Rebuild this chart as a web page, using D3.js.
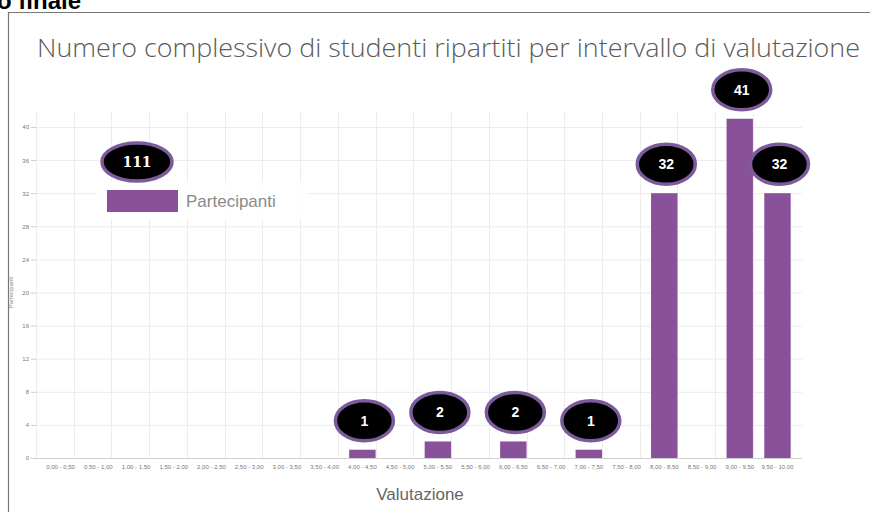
<!DOCTYPE html>
<meta charset="utf-8">
<html>
    <head>
        <style>
            html, body {
                margin: 0;
                padding: 0;
                background: #fff;
            }
            svg {
                display: block;
            }
            .grid line {
                stroke: #ececec;
            }
            .axis text {
                fill: #777;
                font-family: "Liberation Sans", Arial, sans-serif;
                font-size: 6px;
            }
            .axis path, .axis line {
                stroke: #cfcfcf;
            }
            .bar {
                fill: #88519a;
            }
            .bubble ellipse {
                fill: #000;
                stroke: #7c5a9c;
                stroke-width: 3.5;
            }
            .bubble text {
                fill: #fff;
                font-family: "Liberation Sans", Arial, sans-serif;
                font-weight: bold;
                font-size: 14px;
            }
        </style>
    </head>
    <body>
        <svg width="870" height="512"></svg>

        <script src="https://cdn.jsdelivr.net/npm/d3@7"></script>
        <script>
            var categories = ['0,00 - 0,50', '0,50 - 1,00', '1,00 - 1,50', '1,50 - 2,00', '2,00 - 2,50',
                '2,50 - 3,00', '3,00 - 3,50', '3,50 - 4,00', '4,00 - 4,50', '4,50 - 5,00',
                '5,00 - 5,50', '5,50 - 6,00', '6,00 - 6,50', '6,50 - 7,00', '7,00 - 7,50',
                '7,50 - 8,00', '8,00 - 8,50', '8,50 - 9,00', '9,00 - 9,50', '9,50 - 10,00'];
            var partecipanti = [0, 0, 0, 0, 0, 0, 0, 0, 1, 0, 2, 0, 2, 0, 1, 0, 32, 0, 41, 32];
            var yTicks = [0, 4, 8, 12, 16, 20, 24, 28, 32, 36, 40];
            var title = 'Numero complessivo di studenti ripartiti per intervallo di valutazione';
            var seriesName = 'Partecipanti';

            var svg = d3.select('svg'),
                width = +svg.attr('width'),
                height = +svg.attr('height');

            var margin = {top: 127, left: 36, right: 68, bottom: 54};
            var plotW = width - margin.left - margin.right,
                plotH = height - margin.top - margin.bottom;

            // cut-off heading from the page above
            svg.append('text')
                .attr('x', -3)
                .attr('y', 9)
                .style('font-family', '"Liberation Sans", Arial, sans-serif')
                .style('font-weight', 'bold')
                .style('font-size', '24px')
                .text('o finale');

            // frame
            svg.append('path')
                .attr('d', 'M8.5,' + height + 'V12.5H' + width)
                .attr('fill', 'none')
                .attr('stroke', '#777')
                .attr('stroke-width', 1.2);

            svg.append('text')
                .attr('x', 37)
                .attr('y', 57)
                .attr('textLength', 823)
                .attr('lengthAdjust', 'spacingAndGlyphs')
                .style('font-family', '"Open Sans", sans-serif')
                .style('font-weight', 300)
                .style('font-size', '25px')
                .style('fill', '#5a5a5a')
                .text(title);

            var x = d3.scaleBand()
                .domain(categories)
                .range([0, plotW])
                .padding(0.3);

            var y = d3.scaleLinear()
                .domain([0, 40])
                .range([plotH, 0]);

            var g = svg.append('g')
                .attr('transform', 'translate(' + margin.left + ',' + margin.top + ')');

            // grid
            var grid = g.append('g').attr('class', 'grid');
            grid.selectAll('.h')
                .data(yTicks.slice(1))
                .enter()
                    .append('line')
                    .attr('class', 'h')
                    .attr('x1', 0)
                    .attr('x2', plotW)
                    .attr('y1', function (d) { return y(d) + 0.5; })
                    .attr('y2', function (d) { return y(d) + 0.5; });
            grid.selectAll('.v')
                .data(categories)
                .enter()
                    .append('line')
                    .attr('class', 'v')
                    .attr('x1', function (d) { return Math.round(x(d) - x.step() * x.paddingOuter()) + 0.5; })
                    .attr('x2', function (d) { return Math.round(x(d) - x.step() * x.paddingOuter()) + 0.5; })
                    .attr('y1', -15)
                    .attr('y2', plotH);

            g.append('g')
                .attr('class', 'axis')
                .call(d3.axisLeft(y).tickValues(yTicks).tickSize(5).tickPadding(2))
                .call(function (s) { s.select('.domain').remove(); });

            g.append('g')
                .attr('class', 'axis')
                .attr('transform', 'translate(0,' + plotH + ')')
                .call(d3.axisBottom(x).tickSize(0).tickPadding(7))
                .call(function (s) { s.select('.domain').attr('d', 'M0,0.5H' + plotW); });

            g.append('text')
                .attr('transform', 'translate(-23,' + (plotH / 2) + ') rotate(-90)')
                .attr('text-anchor', 'middle')
                .style('font-family', '"Liberation Sans", Arial, sans-serif')
                .style('font-size', '6px')
                .style('fill', '#888')
                .text(seriesName);

            svg.append('text')
                .attr('x', 420)
                .attr('y', 500)
                .attr('text-anchor', 'middle')
                .style('font-family', '"Liberation Sans", Arial, sans-serif')
                .style('font-size', '17px')
                .style('fill', '#666')
                .text('Valutazione');

            // bars
            g.selectAll('.bar')
                .data(partecipanti)
                .enter()
                    .append('rect')
                    .attr('class', 'bar')
                    .attr('x', function (d, i) { return x(categories[i]); })
                    .attr('width', x.bandwidth())
                    .attr('y', function (d) { return y(d); })
                    .attr('height', function (d) { return plotH - y(d); });

            // legend
            var legend = svg.append('g')
                .attr('transform', 'translate(107,190)');
            legend.append('rect')
                .attr('x', -10)
                .attr('y', -8)
                .attr('width', 210)
                .attr('height', 38)
                .attr('fill', '#fff')
                .attr('opacity', 0.85);
            legend.append('rect')
                .attr('width', 71)
                .attr('height', 22)
                .attr('fill', '#88519a');
            legend.append('text')
                .attr('x', 79)
                .attr('y', 17)
                .style('font-family', '"Liberation Sans", Arial, sans-serif')
                .style('font-size', '17px')
                .style('fill', '#8a8a8a')
                .text(seriesName);

            // bubble callouts
            var labelled = partecipanti
                .map(function (d, i) { return {value: d, cat: categories[i]}; })
                .filter(function (d) { return d.value > 0; });

            var bubbles = g.selectAll('.bubble')
                .data(labelled)
                .enter()
                    .append('g')
                    .attr('class', 'bubble')
                    .attr('transform', function (d) {
                        return 'translate(' + (x(d.cat) + x.bandwidth() / 2 + 2) + ',' + (y(d.value) - 29) + ')';
                    });
            bubbles.append('ellipse')
                .attr('rx', 29)
                .attr('ry', 20);
            bubbles.append('text')
                .attr('text-anchor', 'middle')
                .attr('dy', '0.36em')
                .text(function (d) { return d.value; });

            var total = d3.sum(partecipanti);
            var totalBubble = svg.append('g')
                .attr('class', 'bubble')
                .attr('transform', 'translate(137,162)');
            totalBubble.append('ellipse')
                .attr('rx', 35)
                .attr('ry', 19);
            totalBubble.append('text')
                .attr('text-anchor', 'middle')
                .attr('dy', '0.36em')
                .style('font-family', '"DejaVu Serif", serif')
                .text(total);
        </script>
    </body>
</html>
